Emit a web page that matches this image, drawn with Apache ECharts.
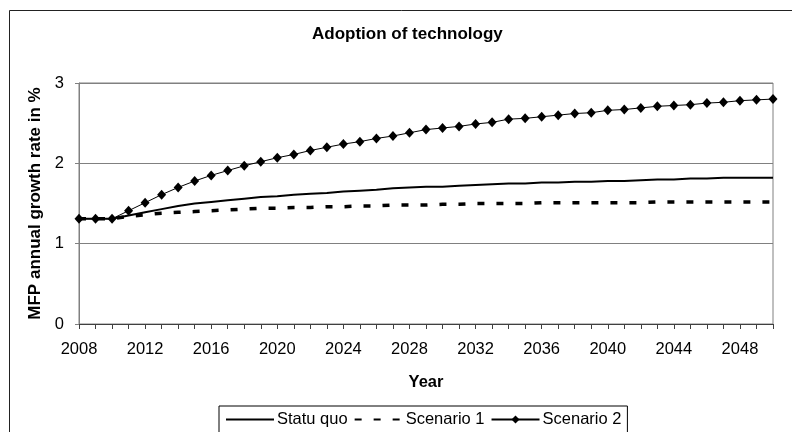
<!DOCTYPE html>
<html>
<head>
<meta charset="utf-8">
<script src="https://cdn.jsdelivr.net/npm/echarts@6/dist/echarts.min.js"></script>
<style>
  html, body { margin: 0; padding: 0; background: #fff; }
  #chart { width: 792px; height: 432px; }
</style>
</head>
<body>
<div id="chart"></div>
<script>
// years on the x axis
const years = []
for (let y = 2008; y <= 2050; y++) years.push(String(y))

// MFP annual growth rate in %
const statuQuo = [
  1.31, 1.31, 1.31, 1.35, 1.39, 1.43, 1.47, 1.50, 1.52, 1.54,
  1.56, 1.58, 1.59, 1.61, 1.62, 1.63, 1.65, 1.66, 1.67, 1.69,
  1.70, 1.71, 1.71, 1.72, 1.73, 1.74, 1.75, 1.75, 1.76, 1.76,
  1.77, 1.77, 1.78, 1.78, 1.79, 1.80, 1.80, 1.81, 1.81, 1.82,
  1.82, 1.82, 1.82
]
const scenario1 = [
  1.31, 1.31, 1.31, 1.34, 1.36, 1.38, 1.39, 1.40, 1.41, 1.42,
  1.43, 1.44, 1.44, 1.45, 1.45, 1.46, 1.46, 1.47, 1.47, 1.48,
  1.48, 1.48, 1.49, 1.49, 1.50, 1.50, 1.50, 1.50, 1.51, 1.51,
  1.51, 1.51, 1.51, 1.51, 1.51, 1.52, 1.52, 1.52, 1.52, 1.52,
  1.52, 1.52, 1.52
]
const scenario2 = [
  1.31, 1.31, 1.31, 1.41, 1.51, 1.61, 1.70, 1.78, 1.85, 1.91,
  1.97, 2.02, 2.07, 2.11, 2.16, 2.20, 2.24, 2.27, 2.31, 2.34,
  2.38, 2.42, 2.44, 2.46, 2.49, 2.51, 2.55, 2.56, 2.58, 2.60,
  2.62, 2.63, 2.66, 2.67, 2.69, 2.71, 2.72, 2.73, 2.75, 2.76,
  2.78, 2.79, 2.80
]

const FONT = 'Liberation Sans, Arial, sans-serif'
const FS = 16.5
const chart = echarts.init(document.getElementById('chart'))

chart.setOption({
  animation: false,
  backgroundColor: '#fff',
  textStyle: { fontFamily: FONT, color: '#000' },
  title: {
    text: 'Adoption of technology',
    left: 312,
    top: 26,
    padding: 0,
    textStyle: { fontFamily: FONT, fontSize: 17, fontWeight: 'bold', color: '#000' }
  },
  graphic: [
    {
      type: 'rect',
      shape: { x: 9.5, y: 10.5, width: 800, height: 440 },
      style: { fill: 'none', stroke: '#222', lineWidth: 1 },
      silent: true
    }
  ],
  grid: {
    left: 79,
    right: 19,
    top: 83,
    bottom: 108,
    show: true,
    borderColor: '#808080',
    borderWidth: 1
  },
  legend: {
    left: 219,
    top: 406,
    padding: [5, 6],
    itemGap: 6,
    itemWidth: 48,
    itemHeight: 10,
    borderColor: '#000',
    borderWidth: 1,
    textStyle: { fontFamily: FONT, fontSize: FS, color: '#000', padding: [0, 0, 0, -2] },
    data: [
      { name: 'Statu quo', itemStyle: { opacity: 0 } },
      { name: 'Scenario 1', itemStyle: { opacity: 0 } },
      { name: 'Scenario 2' }
    ]
  },
  xAxis: {
    type: 'category',
    data: years,
    boundaryGap: false,
    name: 'Year',
    nameLocation: 'middle',
    nameGap: 50,
    nameTextStyle: { fontFamily: FONT, fontSize: FS, fontWeight: 'bold', color: '#000' },
    axisLine: { lineStyle: { color: '#404040', width: 1 } },
    axisTick: { show: true, interval: 0, length: 5, lineStyle: { color: '#404040' } },
    axisLabel: { interval: 3, margin: 17, fontSize: FS, color: '#000', fontFamily: FONT },
    splitLine: { show: false }
  },
  yAxis: {
    type: 'value',
    min: 0,
    max: 3,
    interval: 1,
    name: 'MFP annual growth rate in %',
    nameLocation: 'middle',
    nameGap: 34,
    nameTextStyle: { fontFamily: FONT, fontSize: 17, fontWeight: 'bold', color: '#000' },
    axisLine: { show: true, lineStyle: { color: '#808080', width: 1 } },
    axisTick: { show: true, length: 4, lineStyle: { color: '#808080' } },
    axisLabel: { margin: 15, fontSize: FS, color: '#000', fontFamily: FONT },
    splitLine: { show: true, lineStyle: { color: '#808080', width: 1 } }
  },
  series: [
    {
      name: 'Statu quo',
      type: 'line',
      data: statuQuo,
      symbol: 'none',
      lineStyle: { color: '#000', width: 2 },
      itemStyle: { color: '#000' }
    },
    {
      name: 'Scenario 1',
      type: 'line',
      data: scenario1,
      symbol: 'none',
      lineStyle: { color: '#000', width: 3.5, type: [7, 12] },
      itemStyle: { color: '#000' }
    },
    {
      name: 'Scenario 2',
      type: 'line',
      data: scenario2,
      symbol: 'diamond',
      symbolSize: [9, 10],
      lineStyle: { color: '#000', width: 1 },
      itemStyle: { color: '#000' }
    }
  ]
})
</script>
</body>
</html>
